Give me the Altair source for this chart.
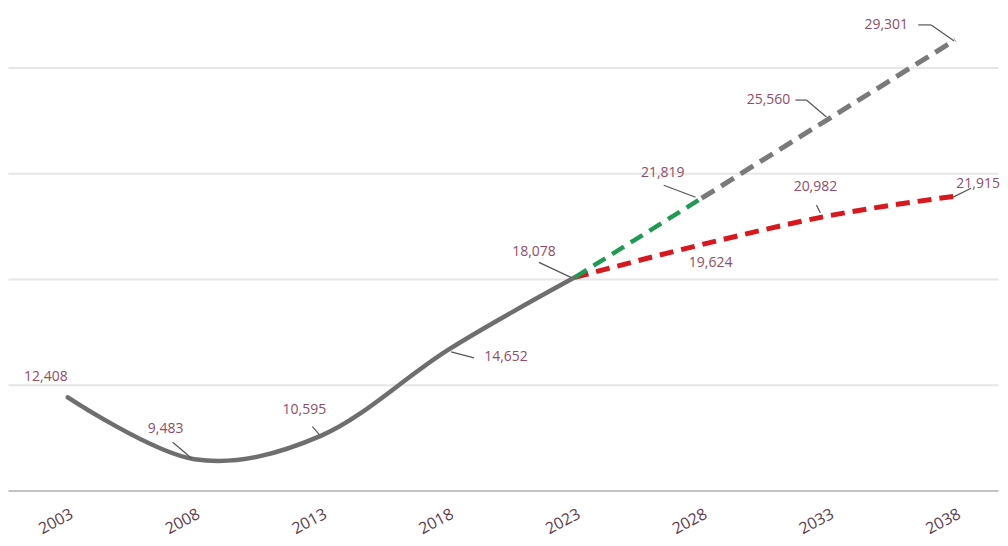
import altair as alt
import pandas as pd

# ---- data ----
hist_years = [2003, 2008, 2013, 2018, 2023]
hist_vals = [12408, 9483, 10595, 14652, 18078]

green_years = [2023, 2028]
green_vals = [18078, 21819]

grayproj_years = [2028, 2033, 2038]
grayproj_vals = [21819, 25560, 29301]

red_years = [2023, 2028, 2033, 2038]
red_vals = [18078, 19624, 20982, 21915]

tick_years = [2003, 2008, 2013, 2018, 2023, 2028, 2033, 2038]
grid_vals = [13000, 18000, 23000, 28000]

# labelled points: (year, value)
label_years = [2003, 2008, 2013, 2018, 2023, 2028, 2033, 2038, 2033, 2028, 2038]
label_vals = [12408, 9483, 10595, 14652, 18078, 21819, 25560, 29301, 20982, 19624, 21915]

# ---- layout / style ----
W, H = 992, 483
XDOM = [2000.64, 2039.69]
YDOM = [8000, 30783]
PX_X = W / (XDOM[1] - XDOM[0])   # px per year
PX_Y = H / (YDOM[1] - YDOM[0])   # px per unit

# text offsets in px (dx, dy)
label_offsets = [(-22, -20), (-29, -30), (-17, -26), (58, 7), (-41, -25), (-39, -25),
                 (-60, -19), (-69, -15), (-13, -29), (9, 18), (23, -12)]
# leader polylines in px relative to the point
leader_paths = [None,
                [(-22, -17), (-3, -1)],
                [(-9, -9), (-2, -1)],
                [(3, 2), (26, 8)],
                [(-36, -15), (-4, 0)],
                [(-38, -13), (-6, -1)],
                [(-33, -19), (-22, -19), (-2, -2)],
                [(-37, -15), (-24, -15), (-1, 1)],
                [(-12, -11), (-8, -3)],
                None,
                [(16, -8), (-2, 1)]]

def to_data(yr, v, dx, dy):
    return yr + dx / PX_X, v - dy / PX_Y

labels_df = pd.DataFrame({
    "year": label_years,
    "value": label_vals,
    "text": [f"{v:,}" for v in label_vals],
})
labels_df["tx"] = [to_data(y, v, o[0], o[1])[0] for y, v, o in zip(label_years, label_vals, label_offsets)]
labels_df["ty"] = [to_data(y, v, o[0], o[1])[1] for y, v, o in zip(label_years, label_vals, label_offsets)]

seg_rows = []
for yr, v, path in zip(label_years, label_vals, leader_paths):
    if not path:
        continue
    for (a, b) in zip(path[:-1], path[1:]):
        x1, y1 = to_data(yr, v, *a)
        x2, y2 = to_data(yr, v, *b)
        seg_rows.append({"x": x1, "y": y1, "x2": x2, "y2": y2})
seg_df = pd.DataFrame(seg_rows)

FONT = "Open Sans"
LABEL_COLOR = "#8e4d68"

xscale = alt.Scale(domain=XDOM, nice=False, zero=False)
yscale = alt.Scale(domain=YDOM, nice=False, zero=False)

hist_df = pd.DataFrame({"year": hist_years, "value": hist_vals})
green_df = pd.DataFrame({"year": green_years, "value": green_vals})
gp_df = pd.DataFrame({"year": grayproj_years, "value": grayproj_vals})
red_df = pd.DataFrame({"year": red_years, "value": red_vals})

x_axis = alt.Axis(values=tick_years, format="d", title=None, grid=False, ticks=False,
                  domain=True, domainColor="#c4c4c4", domainWidth=2,
                  labelAngle=-28, labelAlign="right", labelBaseline="top",
                  labelPadding=15, labelFont=FONT, labelFontSize=16,
                  labelColor="#5d3b4c")
y_axis = alt.Axis(values=grid_vals, title=None, labels=False, ticks=False, domain=False,
                  grid=True, gridColor="#e6e6e6", gridWidth=2)

base_x = alt.X("year:Q", scale=xscale, axis=x_axis)
base_y = alt.Y("value:Q", scale=yscale, axis=y_axis)

hist = alt.Chart(hist_df).mark_line(color="#6e6e6e", strokeWidth=4.5, interpolate="cardinal",
                                    strokeCap="round").encode(x=base_x, y=base_y)
red = alt.Chart(red_df).mark_line(color="#d7191f", strokeWidth=5, interpolate="monotone",
                                  strokeDash=[14, 8]).encode(
    x=alt.X("year:Q", scale=xscale), y=alt.Y("value:Q", scale=yscale))
green = alt.Chart(green_df).mark_line(color="#1f9a55", strokeWidth=4.5,
                                      strokeDash=[14, 8]).encode(
    x=alt.X("year:Q", scale=xscale), y=alt.Y("value:Q", scale=yscale))
grayp = alt.Chart(gp_df).mark_line(color="#7a7a7a", strokeWidth=5,
                                   strokeDash=[15, 8]).encode(
    x=alt.X("year:Q", scale=xscale), y=alt.Y("value:Q", scale=yscale))

leaders = alt.Chart(seg_df).mark_rule(color="#555555", strokeWidth=1.2).encode(
    x=alt.X("x:Q", scale=xscale), y=alt.Y("y:Q", scale=yscale),
    x2="x2:Q", y2="y2:Q")

texts = alt.Chart(labels_df).mark_text(font=FONT, fontSize=14, color=LABEL_COLOR,
                                       align="center", baseline="middle").encode(
    x=alt.X("tx:Q", scale=xscale), y=alt.Y("ty:Q", scale=yscale), text="text:N")

chart = alt.layer(hist, red, green, grayp, leaders, texts).properties(
    width=W, height=H, padding=0, background="white"
).configure_view(strokeWidth=0, stroke="transparent")

chart.save("out.html", embed_options={"renderer": "svg", "actions": False})
